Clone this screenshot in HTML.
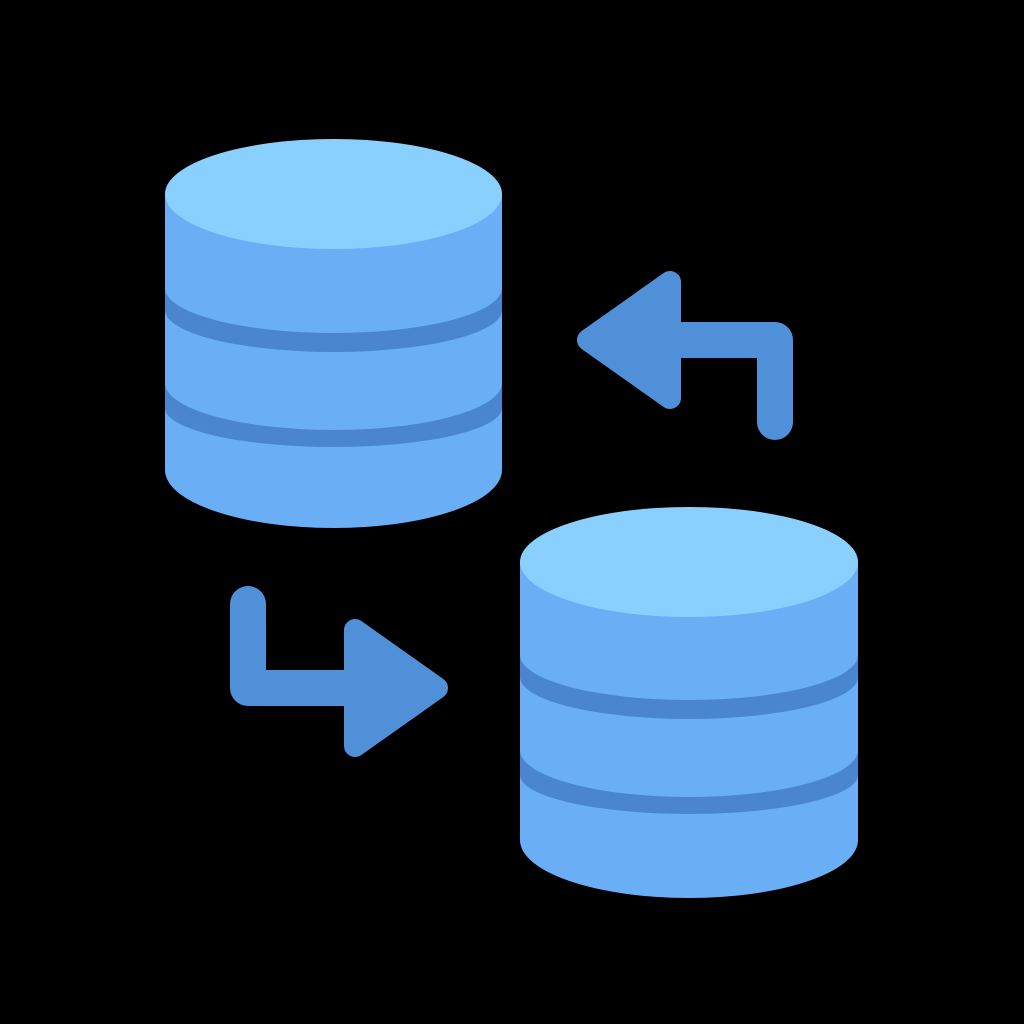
<!DOCTYPE html>
<html><head><style>html,body{margin:0;background:#000;width:1024px;height:1024px;overflow:hidden}</style></head>
<body>
<svg width="1024" height="1024" viewBox="0 0 1024 1024">
<rect width="1024" height="1024" fill="#000"/>
<!-- top cylinder -->
<path d="M165,194 V470 A168.5,58 0 0 0 502,470 V194 Z" fill="#6AAEF6"/>
<path d="M165,288 A168.5,45 0 0 0 502,288 V310 A168.5,42 0 0 1 165,310 Z" fill="#4A86D0"/>
<path d="M165,383 A168.5,47 0 0 0 502,383 V408 A168.5,39 0 0 1 165,408 Z" fill="#4A86D0"/>
<ellipse cx="333.5" cy="194" rx="168.5" ry="55" fill="#8AD0FE"/>
<!-- bottom cylinder -->
<path d="M520,562 V840 A169,58 0 0 0 858,840 V562 Z" fill="#6AAEF6"/>
<path d="M520,655 A169,45 0 0 0 858,655 V677 A169,42 0 0 1 520,677 Z" fill="#4A86D0"/>
<path d="M520,750 A169,47 0 0 0 858,750 V775 A169,39 0 0 1 520,775 Z" fill="#4A86D0"/>
<ellipse cx="689" cy="562" rx="169" ry="55" fill="#8AD0FE"/>
<!-- arrow top right -->
<path d="M660,340 H775 V422" fill="none" stroke="#5090D8" stroke-width="36" stroke-linecap="round" stroke-linejoin="round"/>
<path d="M588,340 L670,282 L670,398 Z" fill="#5090D8" stroke="#5090D8" stroke-width="22" stroke-linejoin="round"/>
<!-- arrow bottom left -->
<path d="M248,604 V688 H360" fill="none" stroke="#5090D8" stroke-width="36" stroke-linecap="round" stroke-linejoin="round"/>
<path d="M437,688 L355,630 L355,746 Z" fill="#5090D8" stroke="#5090D8" stroke-width="22" stroke-linejoin="round"/>
</svg>
</body></html>
